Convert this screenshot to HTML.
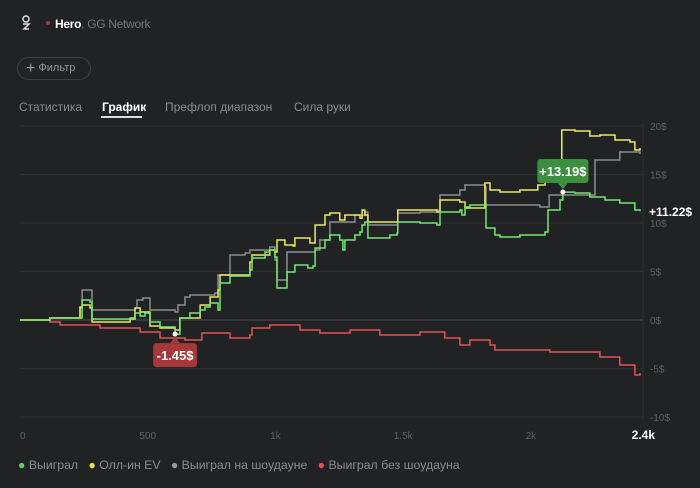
<!DOCTYPE html>
<html><head><meta charset="utf-8">
<style>
body{margin:0;background:#202224;width:700px;height:488px;overflow:hidden;font-family:"Liberation Sans",sans-serif;}
.abs{position:absolute;white-space:nowrap}
</style></head><body>
<div class="abs" style="left:21px;top:15px;width:10px;height:16px;">
<svg width="10" height="16"><circle cx="5" cy="4" r="3" fill="none" stroke="#ddd" stroke-width="1.5"/><path d="M2 9 L8 9 L3 14 L8 14" fill="none" stroke="#ddd" stroke-width="1.5"/></svg></div>
<div class="abs" style="left:46px;top:21px;width:4px;height:4px;border-radius:2px;background:#b0304a"></div>
<div class="abs" style="left:55px;top:17px;font-size:12px;color:#fff;font-weight:bold;letter-spacing:-0.3px">Hero<span style="color:#777;font-weight:normal">, GG Network</span></div>
<div class="abs" style="left:17px;top:57px;width:74px;height:23px;border:1px solid #3c3f41;border-radius:12px;box-sizing:border-box;color:#999;font-size:11px;line-height:21px;padding-left:8px"><span style="font-size:16px;vertical-align:-2px">+</span> Фильтр</div>
<div class="abs" style="left:19px;top:100px;font-size:12px;color:#8a8d90">Статистика</div>
<div class="abs" style="left:102px;top:100px;font-size:12px;color:#fff;font-weight:bold">График</div>
<div class="abs" style="left:101px;top:116px;width:41px;height:2px;background:#ddd"></div>
<div class="abs" style="left:165px;top:100px;font-size:12px;color:#8a8d90">Префлоп диапазон</div>
<div class="abs" style="left:294px;top:100px;font-size:12px;color:#8a8d90">Сила руки</div>

<svg id="chart" class="abs" style="left:0;top:0" width="700" height="488"></svg>

<div class="abs" style="left:18px;top:458px;font-size:12.3px;color:#8a8d90">
<span><span style="color:#5fd35f">●</span> Выиграл</span>&nbsp;&nbsp;
<span><span style="color:#e0e050">●</span> Олл-ин EV</span>&nbsp;&nbsp;
<span><span style="color:#999">●</span> Выиграл на шоудауне</span>&nbsp;&nbsp;
<span><span style="color:#e05050">●</span> Выиграл без шоудауна</span>
</div>

<script>
const yTicks=[-10,-5,0,5,10,15,20];
const xTicks=[0,500,1000,1500,2000];
const xTickLabels=["0","500","1k","1.5k","2k"];
const xMaxLabel="2.4k";
const wonHands=[0,117,243,274,282,431,450,470,489,509,548,607,626,665,705,724,744,775,783,822,900,908,959,978,998,1006,1037,1045,1076,1127,1147,1155,1194,1213,1252,1264,1272,1311,1331,1339,1350,1362,1448,1476,1479,1566,1632,1644,1722,1730,1742,1761,1800,1820,1824,1859,1879,1957,2055,2067,2114,2125,2172,2231,2290,2348,2407,2427];
const wonVals=[0,0.21,2.06,1.86,0.1,0.21,0.72,0.41,0.72,-0.21,-0.72,-1.45,0.21,0.72,1.03,1.34,1.75,1.03,3.81,4.54,5.15,6.39,7.01,7.22,6.49,3.3,3.3,4.95,5.67,5.36,5.57,7.42,8.25,8.76,8.25,7.22,8.25,8.76,9.07,9.79,10.1,8.45,8.76,8.97,10.1,10,9.79,11.13,11.34,10.82,11.65,11.86,11.86,11.96,9.48,8.76,8.56,8.76,9.07,11.34,12.37,13.19,13.09,12.68,12.37,12.06,11.34,11.22];
const evHands=[0,117,235,243,274,282,431,450,470,509,548,607,626,705,744,775,783,900,908,978,998,1006,1037,1069,1076,1135,1155,1194,1213,1252,1272,1331,1339,1350,1362,1476,1479,1566,1632,1644,1722,1742,1820,1840,1879,1957,2027,2055,2114,2121,2172,2231,2270,2329,2388,2407,2427];
const evVals=[0,0.21,1.34,1.55,1.24,-0.21,0.1,1.24,0.82,-0.62,-0.82,-1.03,0.21,1.55,2.37,3.09,4.64,5.98,6.7,7.22,7.01,8.25,7.73,7.63,8.45,7.94,9.79,10.82,11.03,10.31,10.82,10.51,11.34,10.82,10.1,10.1,11.34,11.34,11.13,12.37,12.16,11.55,14.12,13.4,13.2,13.4,13.92,14.23,14.43,19.59,19.48,18.97,19.07,18.56,18.35,17.53,17.73];
const sdHands=[0,117,235,243,274,282,450,458,481,509,607,618,646,665,763,775,822,881,900,978,998,1006,1037,1045,1155,1174,1213,1272,1311,1350,1362,1476,1479,1566,1632,1644,1722,1742,1820,1824,2035,2071,2251,2348,2427];
const sdVals=[0,0.21,1.24,3.09,3.09,1.03,1.24,2.06,2.27,1.03,0.82,1.55,2.37,2.58,2.78,4.64,6.7,6.91,7.22,7.53,6.19,4.12,4.12,7.01,7.22,8.25,10.1,10.1,10.82,11.13,9.79,9.79,11.03,11.13,11.34,12.89,13.4,13.92,13.71,11.86,11.65,12.89,16.49,17.32,17.11];
const nsdHands=[0,117,157,313,470,548,646,705,712,822,900,908,978,1096,1174,1292,1409,1487,1566,1663,1722,1761,1840,1859,2074,2270,2348,2407,2427];
const nsdVals=[0,-0.21,-0.52,-0.82,-1.24,-1.86,-2.06,-2.06,-1.34,-1.86,-1.55,-0.82,-0.52,-1.03,-1.34,-1.03,-1.55,-1.55,-1.24,-1.86,-2.58,-2.06,-2.58,-3.09,-3.3,-3.81,-4.64,-5.67,-5.46];
const peakHand=2125, peakVal=13.19, peakLabel="+13.19$";
const lowHand=607, lowVal=-1.45, lowLabel="-1.45$";
const lastLabel="+11.22$";

const NS="http://www.w3.org/2000/svg";
const svg=document.getElementById('chart');
const X0=20,X1=640,HMAX=2427,Y0=320,PX=9.7;
const xs=h=>X0+h*(X1-X0)/HMAX;
const ys=v=>Y0-v*PX;
function el(t,a){const e=document.createElementNS(NS,t);for(const k in a)e.setAttribute(k,a[k]);svg.appendChild(e);return e;}
yTicks.forEach(v=>{
 const g=el('line',{x1:20,x2:643,y1:ys(v),y2:ys(v),stroke:v===0?'#4a4d50':'#2c2f31','stroke-width':1});
 
 
 const t=el('text',{x:650,y:ys(v)+4,fill:'#5e6164','font-size':10,'font-family':'Liberation Sans'});
 t.textContent=v+'$';
 
 
});
const vl=el('line',{x1:643,x2:643,y1:120,y2:420,stroke:'#2c2f31'});


xTicks.forEach((h,i)=>{
 const t=el('text',{x:xs(h),y:439,fill:'#5e6164','font-size':10,'text-anchor':i===0?'start':'middle','font-family':'Liberation Sans'});
 t.textContent=xTickLabels[i];
 
 
});
const xm=el('text',{x:655,y:439,fill:'#fff','font-size':12,'font-weight':'bold','text-anchor':'end','font-family':'Liberation Sans'});
xm.textContent=xMaxLabel;


function series(H,V,color,name){
 let d='M'+xs(H[0])+' '+ys(V[0]);
 for(let i=1;i<H.length;i++){d+=' H'+xs(H[i]).toFixed(1)+' V'+ys(V[i]).toFixed(1);}
 const p=el('path',{d:d,fill:'none',stroke:color,'stroke-width':1.5});
 
 
}
series(nsdHands,nsdVals,'#e05555','line-nonshowdown');
series(sdHands,sdVals,'#8c8c8c','line-showdown');
series(evHands,evVals,'#eaea5e','line-allin-ev');
series(wonHands,wonVals,'#72e872','line-won');
function tip(h,v,label,color,up,name){
 const x=xs(h),y=ys(v);
 const w=label.length*7.3,bh=24;
 const top=up?y-bh-9:y+9;
 const g=document.createElementNS(NS,'g');svg.appendChild(g);
 
 
 const r=document.createElementNS(NS,'rect');
 Object.entries({x:x-w/2,y:top,width:w,height:bh,rx:3,fill:color}).forEach(([k,a])=>r.setAttribute(k,a));g.appendChild(r);
 const tri=document.createElementNS(NS,'path');
 tri.setAttribute('d',up?`M${x-5} ${top+bh} L${x} ${top+bh+6} L${x+5} ${top+bh}Z`:`M${x-5} ${top} L${x} ${top-6} L${x+5} ${top}Z`);
 tri.setAttribute('fill',color);g.appendChild(tri);
 const t=document.createElementNS(NS,'text');
 Object.entries({x:x,y:top+17,fill:'#fff','font-size':13,'font-weight':'bold','text-anchor':'middle','font-family':'Liberation Sans'}).forEach(([k,a])=>t.setAttribute(k,a));
 t.textContent=label;g.appendChild(t);
 const c=document.createElementNS(NS,'circle');
 c.setAttribute('cx',x);c.setAttribute('cy',y);c.setAttribute('r',2.5);c.setAttribute('fill','#fff');g.appendChild(c);
}
tip(peakHand,peakVal,peakLabel,'#3b8f3f',true,'peak-tooltip');
tip(lowHand,lowVal,lowLabel,'#a53838',false,'low-tooltip');
const ll=el('text',{x:649,y:ys(wonVals[wonVals.length-1])+5,fill:'#fff','font-size':12,'font-weight':'bold','font-family':'Liberation Sans'});
ll.textContent=lastLabel;


</script>
</body></html>
